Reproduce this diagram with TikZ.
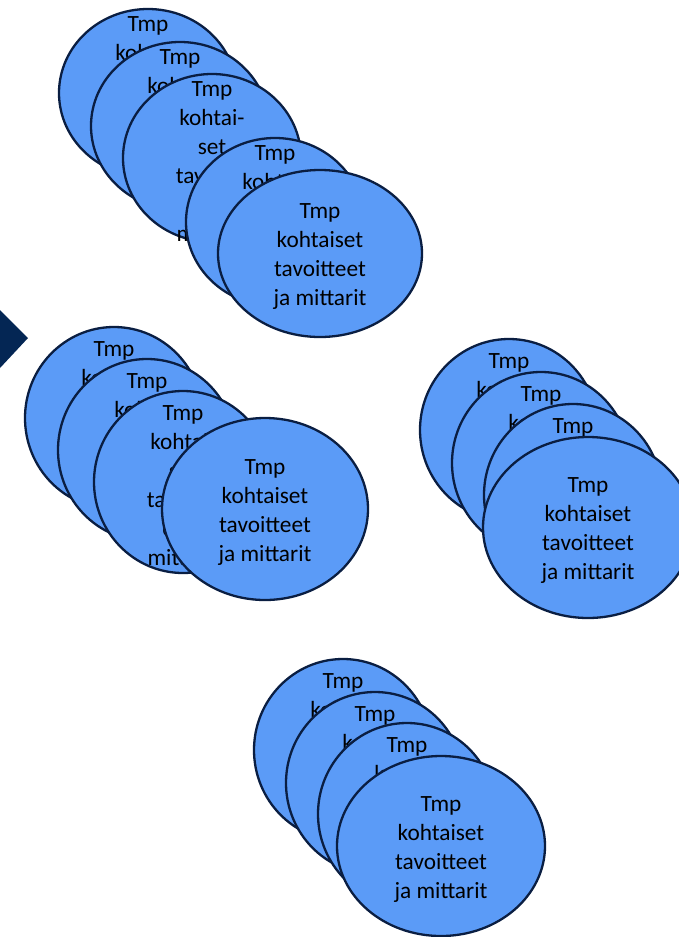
\documentclass[tikz,border=0pt]{standalone}
\usepackage{fontspec}
\newfontfamily\lbfont{Carlito}
\usetikzlibrary{shapes.geometric}
\definecolor{fillb}{RGB}{91,155,247}
\definecolor{edgec}{RGB}{10,30,66}
\definecolor{navy}{RGB}{4,38,84}
\tikzset{
  ell/.style={ellipse, draw=edgec, fill=fillb, line width=2.3pt, inner sep=0pt},
  backA/.style={ell, minimum width=178pt, minimum height=168pt},
  back/.style={ell, minimum width=178pt, minimum height=182pt},
  lbl/.style={align=center, inner sep=0pt, yshift=-3.5pt, text=black, font={\lbfont\fontsize{23.3}{29}\selectfont}}
}
\newcommand{\backtxt}{Tmp\\kohtai-\\set\\tavoitte\\et ja\\mittarit}
\newcommand{\fronttxt}{Tmp\\kohtaiset\\tavoitteet\\ja mittarit}
\begin{document}
\begin{tikzpicture}[x=1pt,y=-1pt]
\useasboundingbox (0,0) rectangle (679,937);
\clip (0,0) rectangle (679,937);
\fill[white] (0,0) rectangle (679,937);
% chevron
\fill[navy] (0,310) -- (28,338) -- (0,368) -- cycle;
% group 1
\node[backA] (e1) at (148,93) {};
\node[lbl] (te1) at (e1.center) {\backtxt};
\node[backA] (e2) at (180,126) {};
\node[lbl] (te2) at (e2.center) {\backtxt};
\node[backA] (e3) at (212,158) {};
\node[lbl] (te3) at (e3.center) {\backtxt};
\node[backA] (e4) at (275,222) {};
\node[lbl] (te4) at (e4.center) {\backtxt};
\node[ell, minimum width=204pt, minimum height=167pt] (e5) at (320,253.5) {};
\node[lbl] (te5) at (e5.center) {\fronttxt};
% group 2
\node[back] (f1) at (114,418) {};
\node[lbl] (tf1) at (f1.center) {\backtxt};
\node[back] (f2) at (147,450) {};
\node[lbl] (tf2) at (f2.center) {\backtxt};
\node[back] (f3) at (183,482) {};
\node[lbl] (tf3) at (f3.center) {\backtxt};
\node[ell, minimum width=206pt, minimum height=182pt] (f4) at (265,509) {};
\node[lbl] (tf4) at (f4.center) {\fronttxt};
% group 3
\node[back] (g1) at (509,430) {};
\node[lbl] (tg1) at (g1.center) {\backtxt};
\node[back] (g2) at (541,463) {};
\node[lbl] (tg2) at (g2.center) {\backtxt};
\node[back] (g3) at (573,495) {};
\node[lbl] (tg3) at (g3.center) {\backtxt};
\node[ell, minimum width=210pt, minimum height=181pt] (g4) at (588,527.5) {};
\node[lbl] (tg4) at (g4.center) {\fronttxt};
% group 4
\node[back] (h1) at (343,750) {};
\node[lbl] (th1) at (h1.center) {\backtxt};
\node[back] (h2) at (375,783) {};
\node[lbl] (th2) at (h2.center) {\backtxt};
\node[back] (h3) at (407,814) {};
\node[lbl] (th3) at (h3.center) {\backtxt};
\node[ell, minimum width=208pt, minimum height=180pt] (h4) at (441,846) {};
\node[lbl] (th4) at (h4.center) {\fronttxt};
\end{tikzpicture}
\end{document}
